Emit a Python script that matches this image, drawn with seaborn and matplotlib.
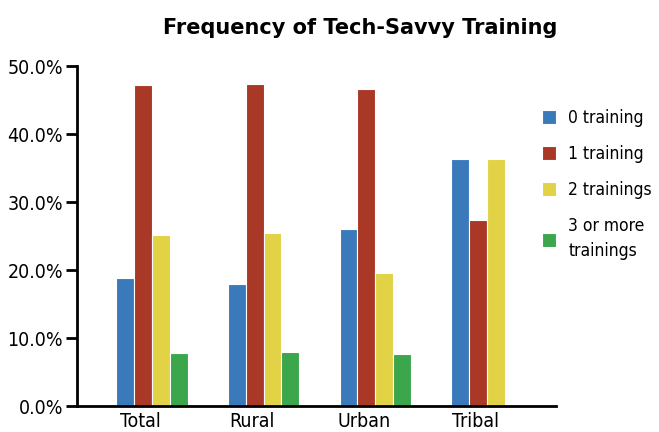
import numpy as np
import pandas as pd
import seaborn as sns
import matplotlib
matplotlib.use('Agg')
import matplotlib.pyplot as plt
from matplotlib import font_manager
from matplotlib.ticker import FuncFormatter

# data (percent)
categories = ['Total', 'Rural', 'Urban', 'Tribal']
series_names = ['0 training', '1 training', '2 trainings', '3 or more\ntrainings']
zero_training = [18.8, 18.0, 26.1, 36.4]
one_training = [47.2, 47.4, 46.7, 27.3]
two_trainings = [25.2, 25.4, 19.5, 36.4]
three_plus = [7.8, 8.0, 7.6, np.nan]
colors = ['#3A7ABA', '#A93826', '#E2D245', '#3CA64C']

rows = []
for name, vals in zip(series_names, [zero_training, one_training, two_trainings, three_plus]):
    for cat, v in zip(categories, vals):
        rows.append({'area': cat, 'group': name, 'pct': v})
df = pd.DataFrame(rows)

sns.set_theme(style='white')
available = {f.name for f in font_manager.fontManager.ttflist}
narrow = 'Liberation Sans Narrow' if 'Liberation Sans Narrow' in available else 'DejaVu Sans'
plt.rcParams['font.family'] = [narrow, 'DejaVu Sans']
plt.rcParams['font.stretch'] = 'condensed'
plt.rcParams['text.color'] = 'black'
plt.rcParams['xtick.color'] = 'black'
plt.rcParams['ytick.color'] = 'black'
plt.rcParams['xtick.labelcolor'] = 'black'
plt.rcParams['ytick.labelcolor'] = 'black'

fig = plt.figure(figsize=(6.59, 4.32), dpi=100)
ax = fig.add_axes([0.117, 0.060, 0.727, 0.787])

sns.barplot(data=df, x='area', y='pct', hue='group', order=categories,
            hue_order=series_names, palette=colors, width=0.64,
            edgecolor='white', linewidth=0.8, saturation=1, ax=ax)

ax.set_ylim(0, 50)
ax.set_xlim(-0.67, 3.62)
ax.set_yticks(np.arange(0, 51, 10))
ax.yaxis.set_major_formatter(FuncFormatter(lambda v, p: f'{v:.1f}%'))
ax.set_xticks(np.arange(len(categories)) - 0.1, categories)
ax.set_xlabel('')
ax.set_ylabel('')
ax.tick_params(axis='y', length=8, width=2, labelsize=14, pad=2, left=True)
ax.tick_params(axis='x', length=0, labelsize=14, pad=4)
for s in ['top', 'right']:
    ax.spines[s].set_visible(False)
for s in ['left', 'bottom']:
    ax.spines[s].set_color('black')
    ax.spines[s].set_linewidth(2)

leg = ax.legend(loc='upper left', bbox_to_anchor=(0.955, 0.895), frameon=False,
                fontsize=12.5, handlelength=0.85, handleheight=0.9,
                handletextpad=0.7, labelspacing=1.05, borderaxespad=0)
for t in leg.get_texts():
    t.set_linespacing(1.5)

fig.text(0.546, 0.935, 'Frequency of Tech-Savvy Training', ha='center', va='center',
         fontsize=15, fontweight='bold', fontstretch='normal',
         family=['DejaVu Sans'])

fig.savefig('out.png', dpi=100)
